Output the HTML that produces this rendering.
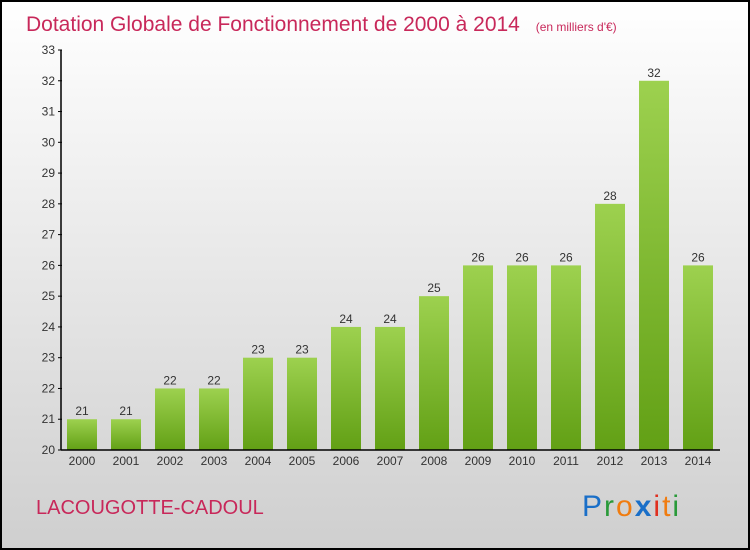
<!DOCTYPE html>
<html><head><meta charset="utf-8"><style>
body{margin:0;width:750px;height:550px;overflow:hidden}
#c{position:relative;width:746px;height:546px;border:2px solid #000;background:linear-gradient(#ffffff,#cfcfcf);font-family:"Liberation Sans",sans-serif}
</style></head><body>
<div id="c">
<svg width="746" height="546" style="position:absolute;left:0;top:0">
<defs><linearGradient id="g" x1="0" y1="0" x2="0" y2="1"><stop offset="0" stop-color="#9dd14f"/><stop offset="1" stop-color="#62a015"/></linearGradient></defs>
<text x="24" y="29" font-size="21" fill="#c8285a">Dotation Globale de Fonctionnement de 2000 à 2014 <tspan font-size="12" dx="10" font-weight="300">(en milliers d'€)</tspan></text>
<g id="plot"></g>
<text x="34" y="512" font-size="20" fill="#c8285a">LACOUGOTTE-CADOUL</text>
<text x="580" y="514" font-size="30" letter-spacing="2"><tspan fill="#1a6fc8">P</tspan><tspan fill="#2a9a3a">r</tspan><tspan fill="#f07c10">o</tspan><tspan fill="#1a6fc8" font-weight="bold">x</tspan><tspan fill="#e03020">i</tspan><tspan fill="#f07c10">t</tspan><tspan fill="#2a9a3a">i</tspan></text>
</svg></div>
<script>
const years=["2000","2001","2002","2003","2004","2005","2006","2007","2008","2009","2010","2011","2012","2013","2014"];
const values=[21,21,22,22,23,23,24,24,25,26,26,26,28,32,26];
const yTicks=[20,21,22,23,24,25,26,27,28,29,30,31,32,33];
const NS="http://www.w3.org/2000/svg",g=document.getElementById("plot");
const ox=-2,oy=-2;
const y=v=>450+oy-(v-20)*400/13, x=i=>82+ox+i*44;
function el(t,a,txt){const e=document.createElementNS(NS,t);for(const k in a)e.setAttribute(k,a[k]);if(txt!=null)e.textContent=txt;g.appendChild(e);return e;}
yTicks.forEach(v=>{
 const t=el("text",{x:55+ox,y:y(v)+4,"font-size":12,fill:"#333","text-anchor":"end"},v);
 
 
 const l=el("line",{x1:58+ox,x2:62+ox,y1:y(v),y2:y(v),stroke:"#000"});
 
 
});
values.forEach((v,i)=>{
 const r=el("rect",{x:x(i)-15,y:y(v),width:30,height:y(20)-y(v),fill:"url(#g)"});
 
 
 const t=el("text",{x:x(i),y:y(v)-4,"font-size":12,fill:"#333","text-anchor":"middle"},v);
 
 
 const xl=el("text",{x:x(i),y:y(20)+15,"font-size":12,fill:"#333","text-anchor":"middle"},years[i]);
 
 
});
const ya=el("line",{x1:61+ox,x2:61+ox,y1:y(33),y2:y(20),stroke:"#000","stroke-width":1.5});


const xa=el("line",{x1:61+ox,x2:720+ox,y1:y(20),y2:y(20),stroke:"#000","stroke-width":1.5});


</script>
</body></html>
